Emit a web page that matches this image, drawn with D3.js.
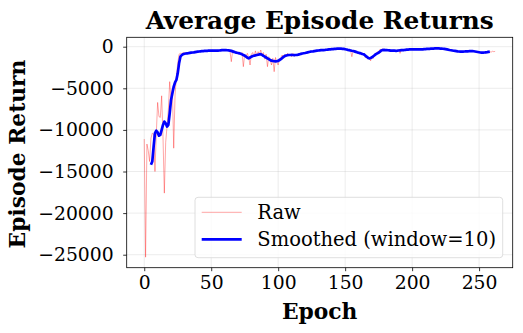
<!DOCTYPE html>
<html>
<head>
<meta charset="utf-8">
<script src="https://cdn.jsdelivr.net/npm/d3@7"></script>
<style>
  body { margin: 0; background: #fff; }
  svg, svg text { font-family: 'DejaVu Serif', serif; }
</style>
</head>
<body>
<div id="chart"></div>
<script>
'use strict'

// raw episode returns, epoch 0..262
const rawReturns = [
  -11100, -25300, -11700, -12500, -13800, -11000, -10400, -10500, -15000, -10400,
  -6700, -8400, -8500, -5900, -10800, -17600, -11500, -9600, -7600, -4200,
  -6500, -5000, -12200, -5800, -3600, -2000, -900, -800, -850, -700,
  -750, -760, -900, -700, -820, -650, -780, -600, -700, -560,
  -650, -540, -600, -500, -560, -470, -530, -450, -520, -460,
  -500, -430, -520, -450, -500, -420, -480, -400, -450, -360,
  -420, -380, -450, -400, -520, -1800, -480, -600, -700, -560,
  -800, -650, -900, -700, -2400, -900, -1100, -800, -1300, -2200,
  -900, -700, -1200, -500, -1100, -600, -900, -400, -1000, -700,
  -1500, -900, -2400, -1200, -1600, -2200, -1400, -3000, -1300, -1900,
  -2200, -1500, -1300, -1000, -1400, -900, -1200, -800, -1100, -900,
  -1200, -800, -1150, -900, -1100, -850, -1000, -750, -900, -700,
  -800, -650, -750, -580, -650, -520, -600, -480, -560, -440,
  -500, -400, -460, -380, -430, -350, -400, -320, -360, -280,
  -340, -260, -300, -220, -270, -200, -250, -220, -280, -240,
  -300, -350, -320, -450, -400, -1200, -500, -700, -600, -800,
  -650, -900, -700, -1000, -800, -1300, -1100, -1500, -1300, -1700,
  -1200, -1400, -900, -1000, -600, -700, -300, -400, -250, -500,
  -350, -450, -300, -550, -400, -500, -380, -600, -420, -500,
  -350, -800, -380, -450, -330, -400, -300, -360, -280, -340,
  -300, -350, -290, -360, -300, -350, -290, -340, -280, -320,
  -260, -300, -240, -280, -220, -260, -200, -240, -180, -220,
  -190, -240, -210, -280, -250, -320, -300, -380, -350, -450,
  -420, -500, -470, -560, -520, -620, -560, -650, -580, -600,
  -540, -580, -520, -550, -500, -560, -520, -620, -580, -680,
  -620, -750, -680, -800, -700, -750, -650, -700, -600, -650,
  -550, -600, -560
];

// smoothed curve (window=10), epoch 5..258
const smoothStart = 5;
const smoothReturns = [
  -14200, -13800, -12000, -10400, -10100, -10300, -10700, -10600, -10000, -9400,
  -9000, -9200, -9600, -9400, -8000, -6400, -5600, -4800, -4300, -4000,
  -3200, -2000, -1200, -1000, -900, -850, -820, -800, -780, -750,
  -720, -700, -680, -650, -620, -600, -580, -560, -540, -520,
  -510, -500, -490, -480, -480, -480, -470, -470, -480, -480,
  -480, -460, -440, -420, -410, -400, -410, -430, -450, -470,
  -500, -560, -620, -680, -720, -760, -800, -860, -920, -1000,
  -1080, -1200, -1320, -1400, -1300, -1200, -1120, -1080, -1040, -1000,
  -960, -920, -900, -980, -1100, -1200, -1300, -1400, -1500, -1600,
  -1680, -1720, -1740, -1760, -1750, -1700, -1600, -1500, -1350, -1220,
  -1120, -1060, -1020, -1000, -1000, -990, -1000, -1010, -1000, -980,
  -950, -900, -860, -820, -790, -760, -720, -680, -640, -600,
  -580, -560, -530, -500, -480, -460, -440, -420, -410, -400,
  -390, -370, -350, -330, -320, -300, -290, -270, -250, -240,
  -230, -230, -240, -250, -260, -300, -340, -380, -410, -450,
  -490, -520, -560, -620, -680, -720, -770, -830, -880, -920,
  -1050, -1200, -1320, -1400, -1350, -1280, -1150, -1020, -900, -800,
  -720, -600, -460, -400, -390, -400, -410, -430, -450, -470,
  -480, -480, -480, -490, -480, -460, -440, -420, -410, -400,
  -380, -360, -340, -330, -320, -320, -320, -320, -330, -330,
  -330, -320, -320, -320, -300, -290, -270, -260, -250, -240,
  -230, -220, -210, -200, -200, -210, -220, -230, -250, -270,
  -300, -330, -360, -400, -430, -460, -490, -510, -530, -560,
  -580, -600, -600, -590, -580, -570, -560, -550, -530, -520,
  -530, -550, -580, -610, -640, -670, -700, -720, -720, -700,
  -680, -660, -630, -600
];

const xTicks = [0, 50, 100, 150, 200, 250];
const yTicks = [0, -5000, -10000, -15000, -20000, -25000];
const legendLabels = ['Raw', 'Smoothed (window=10)'];

const width = 523;
const height = 333;
const margin = { top: 37.3, right: 10.3, bottom: 65.3, left: 126.7 };

const svg = d3.select('#chart').append('svg')
  .attr('width', width)
  .attr('height', height);

// matplotlib style 5% padding on both axes
const x = d3.scaleLinear()
  .domain([-13.1, 275.1])
  .range([margin.left, width - margin.right]);

const y = d3.scaleLinear()
  .domain([-26562, 1130])
  .range([height - margin.bottom, margin.top]);

// grid
svg.append('g')
  .selectAll('line')
  .data(xTicks)
  .join('line')
  .attr('x1', d => x(d)).attr('x2', d => x(d))
  .attr('y1', margin.top).attr('y2', height - margin.bottom)
  .attr('stroke', '#b0b0b0')
  .attr('stroke-opacity', 0.3)
  .attr('stroke-width', 0.8);

svg.append('g')
  .selectAll('line')
  .data(yTicks)
  .join('line')
  .attr('x1', margin.left).attr('x2', width - margin.right)
  .attr('y1', d => y(d)).attr('y2', d => y(d))
  .attr('stroke', '#b0b0b0')
  .attr('stroke-opacity', 0.3)
  .attr('stroke-width', 0.8);

const line = d3.line()
  .x(d => x(d[0]))
  .y(d => y(d[1]));

svg.append('path')
  .datum(rawReturns.map((v, i) => [i, v]))
  .attr('d', line)
  .attr('fill', 'none')
  .attr('stroke', 'red')
  .attr('stroke-opacity', 0.35)
  .attr('stroke-width', 1);

svg.append('path')
  .datum(smoothReturns.map((v, i) => [i + smoothStart, v]))
  .attr('d', line)
  .attr('fill', 'none')
  .attr('stroke', 'blue')
  .attr('stroke-width', 2.7)
  .attr('stroke-linejoin', 'round');

// axes
const xAxis = svg.append('g')
  .attr('transform', `translate(0,${height - margin.bottom})`)
  .call(d3.axisBottom(x).tickValues(xTicks).tickSize(3.5).tickPadding(4.5).tickFormat(d3.format('d')));

const yAxis = svg.append('g')
  .attr('transform', `translate(${margin.left},0)`)
  .call(d3.axisLeft(y).tickValues(yTicks).tickSize(3.5).tickPadding(9.5)
    .tickFormat(d => d < 0 ? '\u2212' + Math.abs(d) : d));

[xAxis, yAxis].forEach(a => {
  a.attr('font-family', null).attr('font-size', 18.8);
  a.select('.domain').remove();
  a.selectAll('.tick line').attr('stroke', '#000').attr('stroke-width', 0.8);
  a.selectAll('.tick text').attr('fill', '#000');
});

// frame
svg.append('rect')
  .attr('x', margin.left)
  .attr('y', margin.top)
  .attr('width', width - margin.left - margin.right)
  .attr('height', height - margin.top - margin.bottom)
  .attr('fill', 'none')
  .attr('stroke', '#000')
  .attr('stroke-width', 0.8);

// titles
svg.append('text')
  .attr('x', (margin.left + width - margin.right) / 2)
  .attr('y', 29)
  .attr('text-anchor', 'middle')
  .attr('font-weight', 'bold')
  .attr('font-size', '24.8px')
  .text('Average Episode Returns');

svg.append('text')
  .attr('x', (margin.left + width - margin.right) / 2)
  .attr('y', 318.5)
  .attr('text-anchor', 'middle')
  .attr('font-weight', 'bold')
  .attr('font-size', '21.8px')
  .text('Epoch');

svg.append('text')
  .attr('transform', `translate(24.5,${(margin.top + height - margin.bottom) / 2 + 1.5}) rotate(-90)`)
  .attr('text-anchor', 'middle')
  .attr('font-weight', 'bold')
  .attr('font-size', '21.8px')
  .text('Episode Return');

// legend
const legend = svg.append('g')
  .attr('transform', 'translate(195,197.3)');

legend.append('rect')
  .attr('width', 307.7)
  .attr('height', 60.4)
  .attr('rx', 3)
  .attr('fill', '#fff')
  .attr('fill-opacity', 0.8)
  .attr('stroke', '#d6d6d6')
  .attr('stroke-width', 0.8);

const legendStyles = [
  { stroke: 'red', opacity: 0.35, w: 1 },
  { stroke: 'blue', opacity: 1, w: 2.7 }
];

const items = legend.selectAll('g.item')
  .data(legendLabels)
  .join('g')
  .attr('class', 'item')
  .attr('transform', (d, i) => `translate(0,${15 + i * 27})`);

items.append('line')
  .attr('x1', 6.7).attr('x2', 46.7)
  .attr('stroke', (d, i) => legendStyles[i].stroke)
  .attr('stroke-opacity', (d, i) => legendStyles[i].opacity)
  .attr('stroke-width', (d, i) => legendStyles[i].w);

items.append('text')
  .attr('x', 62.3)
  .attr('dy', '0.35em')
  .attr('font-size', '19.5px')
  .text(d => d);
</script>
</body>
</html>
